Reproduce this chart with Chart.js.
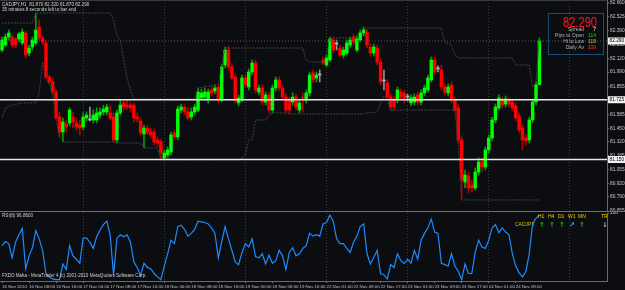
<!DOCTYPE html>
<html>
<head>
<meta charset="utf-8">
<title>CADJPY,H1</title>
<script src="https://cdn.jsdelivr.net/npm/chart.js@4.4.1/dist/chart.umd.min.js"></script>
<style>
  body { margin: 0; background: #0b0d11; overflow: hidden; }
  #wrap { position: relative; width: 625px; height: 290px; }
  #mainBox { position: absolute; left: 0; top: 0; width: 625px; height: 214px; }
  #rsiBox { position: absolute; left: 0; top: 211px; width: 625px; height: 79px; }
</style>
</head>
<body>
<div id="wrap">
  <div id="mainBox"><canvas id="mainChart"></canvas></div>
  <div id="rsiBox"><canvas id="rsiChart"></canvas></div>
</div>
<script>
// H1 bars, bar 0 = 16 Nov 2010 00:00
var open = [82.203,82.251,82.328,82.328,82.309,82.309,82.271,82.367,82.174,82.232,
  82.271,82.424,82.319,82.271,81.944,81.896,81.799,81.559,81.415,81.492,
  81.501,81.559,81.501,81.482,81.463,81.549,81.530,81.530,81.530,81.578,
  81.607,81.607,81.598,81.559,81.338,81.598,81.694,81.674,81.674,81.674,
  81.559,81.521,81.396,81.453,81.415,81.415,81.338,81.319,81.165,81.194,
  81.222,81.405,81.367,81.626,81.655,81.607,81.559,81.607,81.626,81.742,
  81.751,81.723,81.819,81.809,81.848,81.723,82.059,82.203,82.040,81.944,
  81.694,81.723,81.934,81.848,81.992,82.078,81.799,81.838,81.703,81.771,
  81.626,81.838,81.915,81.838,81.751,81.723,81.703,81.751,81.626,81.751,
  81.723,81.790,81.982,81.934,81.963,82.107,82.059,82.107,82.299,82.261,
  82.222,82.155,82.174,82.251,82.328,82.203,82.299,82.367,82.376,82.232,
  82.174,82.222,82.088,81.905,81.886,81.751,81.723,81.723,81.799,81.790,
  81.751,81.694,81.703,81.771,81.703,81.790,81.819,81.915,82.107,82.021,
  82.011,81.848,81.790,81.867,81.723,81.646,81.338,80.934,80.992,80.905,
  80.876,81.030,81.126,81.078,81.242,81.357,81.530,81.646,81.723,81.684,
  81.723,81.703,81.665,81.569,81.453,81.357,81.338,81.530,81.703,81.870];

var high = [82.328,82.357,82.396,82.347,82.328,82.376,82.405,82.386,82.251,82.328,
  82.559,82.492,82.338,82.299,81.963,81.934,81.819,81.607,81.549,81.530,
  81.646,81.607,81.549,81.530,81.598,81.607,81.655,81.626,81.646,81.646,
  81.674,81.684,81.674,81.598,81.626,81.723,81.723,81.723,81.703,81.694,
  81.598,81.549,81.482,81.482,81.453,81.444,81.367,81.347,81.242,81.271,
  81.415,81.434,81.665,81.684,81.684,81.646,81.646,81.684,81.838,81.828,
  81.838,81.828,81.848,81.867,81.876,82.069,82.232,82.242,82.078,81.973,
  81.771,81.963,81.963,82.021,82.107,82.107,81.867,81.867,81.799,81.799,
  81.867,81.944,81.944,81.867,81.780,81.751,81.790,81.780,81.723,81.790,
  81.819,81.992,82.011,81.992,82.011,82.136,82.155,82.328,82.328,82.299,
  82.251,82.232,82.299,82.328,82.357,82.338,82.396,82.424,82.405,82.261,
  82.261,82.251,82.117,82.011,81.915,81.780,81.761,81.848,81.828,81.819,
  81.780,81.771,81.780,81.799,81.819,81.867,81.963,82.136,82.136,82.050,
  82.059,81.876,81.876,81.896,81.751,81.674,81.367,81.049,81.030,80.953,
  81.069,81.165,81.165,81.271,81.386,81.559,81.684,81.771,81.751,81.761,
  81.751,81.732,81.694,81.598,81.482,81.386,81.559,81.732,81.896,82.320];

var low = [82.184,82.232,82.299,82.232,82.222,82.280,82.251,82.126,82.146,82.203,
  82.251,82.299,82.251,81.924,81.876,81.771,81.530,81.367,81.319,81.415,
  81.473,81.453,81.434,81.386,81.434,81.521,81.521,81.501,81.501,81.549,
  81.578,81.578,81.530,81.319,81.309,81.578,81.626,81.626,81.607,81.511,
  81.511,81.376,81.261,81.386,81.357,81.290,81.271,81.146,81.146,81.165,
  81.194,81.338,81.338,81.598,81.578,81.530,81.530,81.578,81.607,81.723,
  81.723,81.694,81.761,81.780,81.694,81.703,82.030,82.011,81.915,81.694,
  81.665,81.703,81.838,81.819,81.963,81.790,81.771,81.674,81.674,81.598,
  81.598,81.809,81.809,81.723,81.598,81.588,81.674,81.626,81.598,81.607,
  81.694,81.761,81.886,81.896,81.896,82.059,82.040,82.088,82.174,82.203,
  82.136,82.126,82.155,82.232,82.251,82.184,82.280,82.338,82.222,82.146,
  82.146,82.059,81.867,81.819,81.723,81.626,81.626,81.694,81.723,81.694,
  81.713,81.665,81.674,81.674,81.674,81.761,81.799,81.896,81.963,81.992,
  81.819,81.771,81.761,81.694,81.607,81.309,80.761,80.876,80.828,80.838,
  80.857,81.001,81.030,81.049,81.213,81.328,81.501,81.626,81.646,81.655,
  81.655,81.617,81.521,81.405,81.242,81.290,81.309,81.501,81.674,81.870];

var close = [82.299,82.328,82.367,82.251,82.251,82.357,82.376,82.155,82.222,82.299,
  82.396,82.319,82.280,81.944,81.896,81.799,81.549,81.415,81.511,81.463,
  81.626,81.511,81.463,81.453,81.559,81.578,81.530,81.578,81.598,81.607,
  81.636,81.655,81.549,81.338,81.598,81.674,81.655,81.655,81.646,81.549,
  81.540,81.405,81.453,81.415,81.386,81.319,81.309,81.213,81.213,81.242,
  81.386,81.367,81.636,81.655,81.607,81.549,81.607,81.655,81.799,81.790,
  81.799,81.799,81.790,81.838,81.723,82.040,82.203,82.040,81.934,81.723,
  81.742,81.934,81.867,81.992,82.078,81.819,81.838,81.703,81.771,81.626,
  81.838,81.915,81.838,81.751,81.626,81.626,81.751,81.655,81.694,81.742,
  81.790,81.963,81.915,81.963,81.963,82.078,82.126,82.309,82.203,82.261,
  82.155,82.203,82.271,82.299,82.280,82.309,82.367,82.396,82.251,82.174,
  82.232,82.088,81.896,81.905,81.751,81.655,81.655,81.819,81.751,81.723,
  81.751,81.742,81.751,81.703,81.790,81.838,81.934,82.107,81.992,82.021,
  81.848,81.799,81.848,81.723,81.626,81.338,80.953,81.001,80.876,80.876,
  81.030,81.126,81.078,81.242,81.357,81.530,81.655,81.742,81.674,81.732,
  81.684,81.646,81.549,81.434,81.338,81.328,81.530,81.703,81.867,82.290];

// RSI(8) sub window
var rsi8 = [52,58,55,34,57,68,77,18,37,49,
  74,62,45,11,6,3,2,2,25,17,
  52,37,32,26,63,63,57,48,65,75,
  83,88,68,9,63,68,65,68,57,28,
  20,8,26,20,18,11,6,2,22,40,
  60,55,80,82,76,66,70,76,88,87,
  86,84,78,70,34,58,80,62,45,28,
  24,42,55,50,62,36,34,40,25,38,
  26,30,45,37,17,42,49,37,40,48,
  52,70,66,68,66,84,86,97,88,62,
  55,55,48,42,57,66,80,84,40,25,
  35,45,11,9,3,24,20,40,30,26,
  32,26,45,32,60,70,78,91,72,70,
  26,24,22,40,22,14,2,25,11,11,
  42,60,50,48,60,78,83,71,78,72,
  68,40,22,12,6,14,40,85,92,96.86];

// price channel, [bar, price]
var upperBand = [[0,82.463],[9,82.463],[10,82.559],[32,82.559],[33,82.492],[34,82.338],[35,82.299],
  [36,82.107],[37,81.934],[38,81.819],[39,81.732],[57,81.732],[58,81.838],[63,81.867],[64,81.876],
  [65,82.069],[66,82.222],[89,82.222],[90,82.107],[91,82.088],[95,82.088],[96,82.155],[97,82.319],
  [104,82.319],[105,82.338],[106,82.396],[107,82.415],[130,82.415],[131,82.280],[133,82.251],
  [134,82.155],[135,82.126],[151,82.126],[152,82.059],[156,82.059],[157,81.848],[158,81.896],[159,82.320]];
var lowerBand = [[0,81.549],[1,81.646],[3,81.674],[6,81.694],[10,81.694],[11,81.790],[12,82.088],
  [13,81.924],[14,81.876],[15,81.771],[16,81.530],[17,81.367],[18,81.319],[33,81.319],[34,81.309],
  [41,81.309],[42,81.261],[46,81.261],[47,81.146],[70,81.146],[71,81.165],[72,81.194],[73,81.338],
  [74,81.338],[75,81.530],[78,81.530],[79,81.578],[80,81.598],[84,81.598],[85,81.588],[107,81.588],
  [108,81.598],[111,81.607],[112,81.694],[113,81.761],[114,81.723],[115,81.626],[134,81.626],
  [135,81.309],[136,80.761],[159,80.761]];

var levelLines = [81.725, 81.150];   // horizontal lines
var bidPrice = 82.290;
var priceTicks = [80.655,80.790,80.920,81.055,81.185,81.320,81.450,81.585,81.720,81.855,81.990,82.120,82.255,82.390,82.525,82.660];
var timeLabels = ['16 Nov 2010','16 Nov 08:00','16 Nov 16:00','17 Nov 00:00','17 Nov 08:00','17 Nov 16:00',
  '18 Nov 00:00','18 Nov 08:00','18 Nov 16:00','19 Nov 00:00','19 Nov 08:00','19 Nov 16:00',
  '22 Nov 01:00','22 Nov 09:00','22 Nov 17:00','23 Nov 01:00','23 Nov 09:00','23 Nov 17:00',
  '24 Nov 01:00','24 Nov 09:00'];
var headerText = ['CADJPY,H1  81.870 82.320 81.870 82.290', '35 minutes 8 seconds left to bar end'];
var infoLabels = ['Spread', 'Pips to Open', 'Hi to Low', 'Daily Av'];
var infoValues = ['7', '114', '119', '109'];
var tfLabels = ['H1', 'H4', 'D1', 'W1', 'MN'];
var tfArrows = ['\u2191', '\u2191', '\u2191', '\u2197', '\u2191'];

Chart.defaults.font.family = '"Liberation Sans", Arial, sans-serif';
Chart.defaults.color = '#c8c8c8';

var X_MIN = -0.6, X_MAX = 179;
var FONT = '"Liberation Sans", Arial, sans-serif';

// candle colours
var bodyColors = open.map(function (o, i) {
  return close[i] > o ? '#00ff00' : (close[i] < o ? '#ff0000' : '#b4b4b4');
});
var wickColors = open.map(function (o, i) {
  return close[i] > o ? '#0c9a0c' : (close[i] < o ? '#b00000' : '#909090');
});

function stepTicks(from, to, step) {
  var t = [];
  for (var v = from; v <= to; v += step) t.push({ value: v });
  return t;
}
function flatLine(v) {
  return [{ x: X_MIN, y: v }, { x: X_MAX, y: v }];
}
function bandPoints(b) {
  return b.map(function (p) { return { x: p[0], y: p[1] }; });
}

var mainOverlay = {
  id: 'mainOverlay',
  afterDraw: function (chart) {
    var ctx = chart.ctx, yScale = chart.scales.y;
    ctx.save();
    ctx.fillStyle = '#3a3a3a';
    ctx.fillRect(0, 0, 607, 1);

    // header
    ctx.font = '4.6px ' + FONT;
    ctx.fillStyle = '#d8d8d8';
    ctx.textAlign = 'left';
    ctx.textBaseline = 'middle';
    ctx.fillText(headerText[0], 2, 4.5);
    ctx.fillText(headerText[1], 2, 10);

    // marked prices on the scale
    ctx.font = '4.8px ' + FONT;
    [bidPrice].concat(levelLines).forEach(function (v) {
      var py = yScale.getPixelForValue(v);
      ctx.fillStyle = '#f2f2f2';
      ctx.fillRect(608, py - 3.5, 17, 7);
      ctx.fillStyle = '#000000';
      ctx.fillText(v.toFixed(3), 609.5, py);
    });

    // info box
    ctx.setLineDash([1, 1]);
    ctx.strokeStyle = '#3688dc';
    ctx.lineWidth = 1;
    ctx.strokeRect(548.5, 13.5, 55, 41);
    ctx.setLineDash([]);
    ctx.fillStyle = '#ff1a1a';
    ctx.font = '14px ' + FONT;
    ctx.textBaseline = 'alphabetic';
    ctx.fillText(bidPrice.toFixed(3), 563, 26.5, 34);
    var valueColors = ['#ffffff', '#00e000', '#e8c000', '#ff3c10'];
    ctx.font = '5px ' + FONT;
    ctx.textBaseline = 'middle';
    infoLabels.forEach(function (lab, k) {
      var ty = 29.5 + k * 6.1;
      ctx.textAlign = 'right';
      ctx.fillStyle = '#b0b0b0';
      ctx.fillText(lab, 584, ty);
      ctx.fillStyle = valueColors[k];
      ctx.fillText(infoValues[k], 596, ty);
    });
    ctx.restore();
  }
};

var rsiOverlay = {
  id: 'rsiOverlay',
  afterDraw: function (chart) {
    var ctx = chart.ctx;
    ctx.save();
    ctx.fillStyle = '#707070';
    ctx.fillRect(0, 0, 625, 1);
    ctx.textBaseline = 'middle';
    ctx.textAlign = 'left';
    ctx.font = '4.6px ' + FONT;
    ctx.fillStyle = '#d0d0d0';
    ctx.fillText('RSI(8) ' + rsi8[rsi8.length - 1].toFixed(4), 2, 4.5);
    ctx.fillText('FXDD Malta - MetaTrader 4 (c) 2001-2010 MetaQuotes Software Corp.', 2, 64.5);

    // trend dashboard
    ctx.font = '5px ' + FONT;
    ctx.fillStyle = '#e6d200';
    tfLabels.forEach(function (t, k) { ctx.fillText(t, 538 + k * 10, 6); });
    ctx.fillText('TR', 601, 6);
    ctx.fillStyle = '#d2bc00';
    ctx.fillText('CADJPY', 515, 14);
    ctx.font = 'bold 7px "DejaVu Sans"';
    tfArrows.forEach(function (a, k) {
      ctx.fillStyle = a === '\u2191' ? '#10c010' : '#20b8ff';
      ctx.fillText(a, 539 + k * 10, 14);
    });
    ctx.fillStyle = '#a0a0a0';
    ctx.fillText('\u2193', 602, 14);
    ctx.restore();
  }
};

// main price window
new Chart(document.getElementById('mainChart'), {
  type: 'bar',
  data: {
    datasets: [
      { type: 'line', data: flatLine(levelLines[0]), borderColor: '#e8e8e8', borderWidth: 1.5, pointRadius: 0, order: 1 },
      { type: 'line', data: flatLine(levelLines[1]), borderColor: '#e8e8e8', borderWidth: 1.5, pointRadius: 0, order: 1 },
      { type: 'line', data: flatLine(bidPrice), borderColor: '#5a5a5a', borderWidth: 1, borderDash: [1, 2], pointRadius: 0, order: 2 },
      { type: 'line', data: bandPoints(upperBand), borderColor: '#424242', borderWidth: 1, borderDash: [2, 1], pointRadius: 0, order: 3 },
      { type: 'line', data: bandPoints(lowerBand), borderColor: '#424242', borderWidth: 1, borderDash: [2, 1], pointRadius: 0, order: 3 },
      { data: open.map(function (o, i) { return { x: i, y: [low[i], high[i]] }; }),
        backgroundColor: wickColors, barThickness: 1, grouped: false, order: 5 },
      { data: open.map(function (o, i) { return { x: i, y: [o, close[i]] }; }),
        backgroundColor: bodyColors, barThickness: 2.8, minBarLength: 1, grouped: false, order: 4 }
    ]
  },
  options: {
    responsive: true,
    maintainAspectRatio: false,
    animation: false,
    events: [],
    layout: { padding: { top: 0, bottom: 3, left: 0, right: 0 } },
    plugins: { legend: { display: false }, tooltip: { enabled: false } },
    scales: {
      x: {
        type: 'linear', min: X_MIN, max: X_MAX, offset: false,
        afterBuildTicks: function (s) { s.ticks = stepTicks(24, 168, 24); },
        ticks: { display: false },
        grid: { offset: false, color: '#3e3e3e', lineWidth: 1, drawTicks: false },
        border: { display: false, dash: [1, 2] },
        afterFit: function (s) { s.height = 0; s.paddingLeft = 0; s.paddingRight = 0; }
      },
      y: {
        position: 'right', min: 80.655, max: 82.684,
        afterBuildTicks: function (s) { s.ticks = priceTicks.map(function (v) { return { value: v }; }); },
        ticks: { autoSkip: false, padding: 1, color: '#c8c8c8', font: { size: 4.8 },
          callback: function (v) { return v.toFixed(3); } },
        grid: { drawOnChartArea: false, drawTicks: true, tickLength: 2, tickColor: '#6a6a6a' },
        border: { display: true, color: '#6a6a6a' },
        afterFit: function (s) { s.width = 18; s.paddingTop = 0; s.paddingBottom = 0; }
      }
    }
  },
  plugins: [mainOverlay]
});

// RSI window
new Chart(document.getElementById('rsiChart'), {
  type: 'line',
  data: {
    datasets: [{
      data: rsi8.map(function (v, i) { return { x: i, y: v }; }),
      borderColor: '#1e8cff', borderWidth: 1.2, pointRadius: 0, tension: 0
    }]
  },
  options: {
    responsive: true,
    maintainAspectRatio: false,
    animation: false,
    events: [],
    layout: { padding: { top: 2, bottom: 0, left: 0, right: 0 } },
    plugins: { legend: { display: false }, tooltip: { enabled: false } },
    scales: {
      x: {
        type: 'linear', min: X_MIN, max: X_MAX, offset: false,
        afterBuildTicks: function (s) { s.ticks = stepTicks(0, 168, 8); },
        ticks: { align: 'start', autoSkip: false, maxRotation: 0, minRotation: 0, padding: 1,
          color: '#c0c0c0', font: { size: 4.4 },
          callback: function (v, i) { return timeLabels[i] || ''; } },
        grid: {
          offset: false, lineWidth: 1, drawTicks: true, tickLength: 2,
          color: function (c) { return (c.tick && c.tick.value > 0 && c.tick.value % 24 === 0) ? '#3e3e3e' : 'rgba(0,0,0,0)'; },
          tickColor: function (c) { return c.index < timeLabels.length ? '#808080' : 'rgba(0,0,0,0)'; }
        },
        border: { display: true, color: '#6a6a6a', dash: [1, 2] },
        afterFit: function (s) { s.height = 9; s.paddingLeft = 0; s.paddingRight = 0; }
      },
      y: {
        position: 'right', min: 0, max: 100,
        afterBuildTicks: function (s) { s.ticks = [{ value: 100 }]; },
        ticks: { padding: 1, color: '#c8c8c8', font: { size: 4.8 } },
        grid: { drawOnChartArea: false, drawTicks: true, tickLength: 2, tickColor: '#6a6a6a' },
        border: { display: true, color: '#6a6a6a' },
        afterFit: function (s) { s.width = 18; s.paddingTop = 0; s.paddingBottom = 0; }
      }
    }
  },
  plugins: [rsiOverlay]
});
</script>
</body>
</html>
